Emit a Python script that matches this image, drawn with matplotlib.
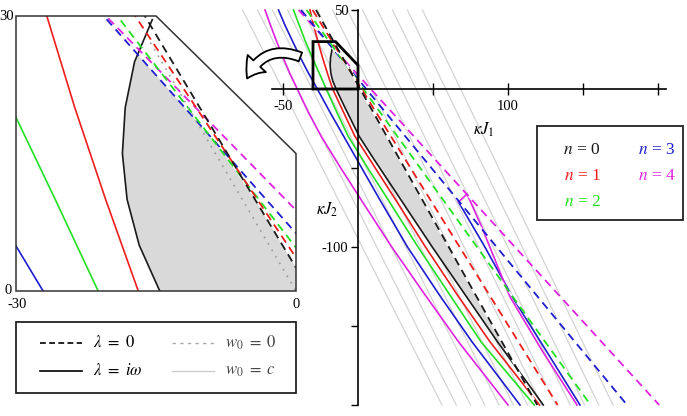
import numpy as np
import matplotlib.pyplot as plt
from matplotlib.patches import Polygon, Rectangle, FancyArrowPatch
from matplotlib.lines import Line2D

plt.rcParams['font.family'] = ['Liberation Serif', 'DejaVu Serif']
plt.rcParams['mathtext.fontset'] = 'stix'

W, H = 687, 416

# colours for n = 0..4
n_labels = ['0', '1', '2', '3', '4']
n_colors = ['#1a1a1a', '#ee1d1d', '#22e022', '#1d1dd0', '#e022e0']

# lambda = 0 (dashed, straight): J1 where each line meets J2 = 50 and J2 = -200
dash_j2 = [50, -200]
dash_j1 = [[-28.0, 119.5],
           [-30.3, 133.1],
           [-34.3, 155.1],
           [-38.0, 179.4],
           [-39.6, 200.8]]

# lambda = i*omega (solid) for n = 1..4, J1 read at these J2 values
solid_j2 = [50, 40, 30, 20, 10, 0, -15, -30, -50, -70, -100, -130, -160, -200]
red_j1 = [-32, -29.5, -26.7, -23.7, -20.4, -16.9, -9.5, -2, 11.5, 25, 45, 66, 88, 121]
green_j1 = [-43, -39, -35, -30.5, -25.8, -21.2, -14, -6.5, 6.5, 20, 40, 61, 82, 117.5]
blue_j1 = [-53, -48.5, -43.5, -38.5, -33, -27.1, -18.5, -9.5, 2.5, 14.5, 33, 54, 76, 108]
magenta_j1 = [-62, -58.2, -54.2, -50, -45.5, -40.5, -33, -24.5, -11.5, 2, 22.5, 44.5, 67, 100]

# n = 0 solid curve (edge of the shaded region)
black_j2 = [29.6, 25, 20, 15, 10, 5, 0, -10, -20, -30, -45, -60, -80, -100,
            -120, -140, -160, -175, -190, -200]
black_j1 = [-15.4, -17.3, -18.3, -18.6, -18.1, -16.8, -14.6, -9.6, -4.4, 0.8,
            11, 21.5, 35.5, 49.5, 64, 78.5, 93, 104.5, 116, 123.5]

# second solid branches for n = 3 and n = 4
blue2_j1 = [67, 84, 103.5, 125, 148]
blue2_j2 = [-71.5, -99, -132.5, -165, -200]
magenta2_j1 = [67, 72.7, 82.4, 101.3, 123, 146]
magenta2_j2 = [-71.5, -66.5, -87.1, -131.5, -166, -200]

# w0 = 0 (dotted) and w0 = c (light grey) lines
wzero_j1 = [-15.6, 0]
wzero_j2 = [27.1, 0]
grey_j2 = [50, -200]
grey_top_j1 = [-77, -67, -57, -47, -37, -27, -17, -7, 3, 13, 23, 33, 43]
grey_bot_j1 = [56, 65.5, 75, 84.5, 94, 103.5, 113, 122.5, 132, 141.5, 151, 160.5, 170]

solid_sets = [(red_j1, n_colors[1]), (green_j1, n_colors[2]),
              (blue_j1, n_colors[3]), (magenta_j1, n_colors[4])]


def fp(x, y):
    return (x / W, 1 - y / H)


def draw_curves(a, gap=None, clip=None):
    arts = []
    # shaded region: right of n=0 solid curve, below every dashed line
    yy = np.array(black_j2)
    right = np.min([np.interp(yy, dash_j2[::-1], d[::-1]) for d in dash_j1], axis=0)
    arts.append(a.fill_betweenx(yy, black_j1, right, where=right > np.array(black_j1),
                                interpolate=True, color='#d9d9d9', lw=0, zorder=1))
    if clip is None:
        for top, bot in zip(grey_top_j1, grey_bot_j1):
            arts += a.plot([top, bot], grey_j2, color='#d4d4d4', lw=0.9, zorder=0.5)
    for j1, c in solid_sets:
        arts += a.plot(j1, solid_j2, color=c, lw=1.2)
    arts += a.plot(blue2_j1, blue2_j2, color=n_colors[3], lw=1.2)
    arts += a.plot(magenta2_j1, magenta2_j2, color=n_colors[4], lw=1.2)
    arts += a.plot(black_j1, black_j2, color=n_colors[0], lw=1.2)
    for d, c in zip(dash_j1[::-1], n_colors[::-1]):
        arts += a.plot(d, dash_j2, color=c, lw=1.3, ls=(0, (4.5, 3)), gapcolor=gap)
    if clip is not None:
        arts += a.plot(wzero_j1, wzero_j2, color='#999999', lw=1.2, ls=(0, (1, 3.5)))
        for art in arts:
            art.set_clip_path(clip)


fig = plt.figure(figsize=(W / 100, H / 100), dpi=100)

# main panel
ax = fig.add_axes([0, 0, 1, 1])
ax.set_xlim(-358 / 1.5, (W - 358) / 1.5)
ax.set_ylim((89 - H) / 1.58, 89 / 1.58)
ax.patch.set_visible(False)
draw_curves(ax, gap='white')
for s in ['top', 'right']:
    ax.spines[s].set_visible(False)
ax.spines['left'].set_position(('data', 0))
ax.spines['bottom'].set_position(('data', 0))
ax.spines['left'].set_bounds(-200, 50)
ax.spines['bottom'].set_bounds(-57, 205)
for s in ['left', 'bottom']:
    ax.spines[s].set_linewidth(1.2)
    ax.spines[s].set_zorder(3)
ax.set_xticks([-50, 50, 100, 150, 200])
ax.set_xticklabels(['-50', '', '100', '', ''])
ax.set_yticks([50, -50, -100, -150, -200])
ax.set_yticklabels(['50', '', '-100', '', ''])
ax.tick_params(axis='x', direction='inout', length=8, width=1, labelsize=10.5, pad=4)
ax.tick_params(axis='y', direction='out', length=5, width=1, labelsize=10.5, pad=2)
ax.add_patch(Polygon([(-30, 0), (-30, 30), (-15, 30), (0, 15), (0, 0)], closed=True,
                     fill=False, ec='black', lw=2, zorder=6))

fig.text(*fp(484, 130), r'$\kappa J_1$', fontsize=12, ha='center', va='center')
fig.text(*fp(327, 210), r'$\kappa J_2$', fontsize=12, ha='center', va='center')

# zoomed inset
axi = fig.add_axes([16 / W, 1 - 291 / H, 280 / W, 275 / H])
axi.set_xlim(-30, 0)
axi.set_ylim(0, 30)
axi.axis('off')
inset_verts = [(-30, 0), (-30, 30), (-15, 30), (0, 15), (0, 0)]
bg = Polygon(inset_verts, closed=True, fc='white', ec='none', zorder=0)
axi.add_patch(bg)
draw_curves(axi, clip=bg)
axi.add_patch(Polygon(inset_verts, closed=True, fill=False, ec='#333333', lw=1.1,
                      zorder=10, clip_on=False))
fig.text(*fp(14, 17), '30', fontsize=10.5, ha='right', va='center')
fig.text(*fp(12, 290), '0', fontsize=10.5, ha='right', va='center')
fig.text(*fp(17, 304), '-30', fontsize=10.5, ha='center', va='center')
fig.text(*fp(296, 304), '0', fontsize=10.5, ha='center', va='center')

# curved arrow
arr = FancyArrowPatch(fp(303, 58), fp(246, 81), transform=fig.transFigure,
                      connectionstyle='arc3,rad=0.5',
                      arrowstyle='simple,tail_width=0.45,head_width=1.2,head_length=0.85',
                      mutation_scale=15, fc='white', ec='black', lw=1.3)
fig.patches.append(arr)

# n legend
x0, y0 = fp(537, 220)
x1, y1 = fp(683, 126)
fig.patches.append(Rectangle((x0, y0), x1 - x0, y1 - y0, transform=fig.transFigure,
                             fc='white', ec='#222222', lw=1.3))
n_pos = [(582, 150), (582, 176), (582, 202), (657, 150), (657, 176)]
for lab, c, (px, py) in zip(n_labels, n_colors, n_pos):
    fig.text(*fp(px, py), r'$n$ = ' + lab, color=c, fontsize=12.5, ha='center', va='center')

# line style legend
x0, y0 = fp(16, 393)
x1, y1 = fp(296, 322)
fig.patches.append(Rectangle((x0, y0), x1 - x0, y1 - y0, transform=fig.transFigure,
                             fc='white', ec='#222222', lw=1.3))
styles = [((40, 82, 343), 'black', (0, (3.5, 2)), 1.2, r'$\lambda\ =\ \mathit{0}$', 'black'),
          ((40, 82, 371), 'black', '-', 1.2, r'$\lambda\ =\ i\omega$', 'black'),
          ((172, 214, 343), '#aaaaaa', (0, (2.5, 3)), 1.0, r'$w_0\ =\ \mathit{0}$', '#444444'),
          ((172, 214, 371), '#cccccc', '-', 1.0, r'$w_0\ =\ c$', '#444444')]
for (xa, xb, yl), c, ls, lw, lab, tc in styles:
    pa, pb = fp(xa, yl), fp(xb, yl)
    fig.add_artist(Line2D([pa[0], pb[0]], [pa[1], pb[1]], transform=fig.transFigure,
                          color=c, ls=ls, lw=lw))
    fig.text(*fp(xb + 11, yl), lab, fontsize=12, color=tc, ha='left', va='center')

fig.savefig('out.png', dpi=100)
